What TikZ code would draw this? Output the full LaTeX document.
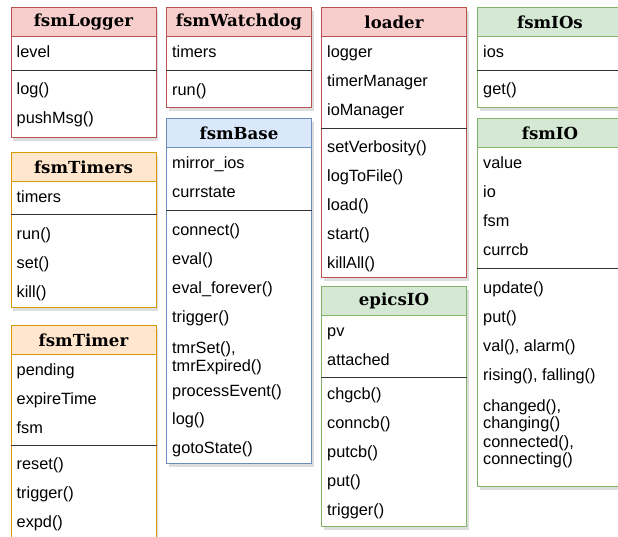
\documentclass[tikz,border=0pt]{standalone}
\usepackage{fontspec}
\setmainfont{Liberation Sans}
\newfontfamily\titlefont{DejaVu Serif}
\usepackage{tikz}
\usetikzlibrary{positioning, shadows}

\definecolor{redfill}{HTML}{F8CECC}
\definecolor{redline}{HTML}{B85450}
\definecolor{orangefill}{HTML}{FFE6CC}
\definecolor{orangeline}{HTML}{D79B00}
\definecolor{bluefill}{HTML}{DAE8FC}
\definecolor{blueline}{HTML}{6C8EBF}
\definecolor{greenfill}{HTML}{D5E8D4}
\definecolor{greenline}{HTML}{82B366}

\begin{document}
\begin{tikzpicture}[
    x=1pt, y=-1pt,
    frame/.style={rectangle, draw=#1line, fill=white, line width=1pt, minimum width=145pt, anchor=north west, inner sep=0pt, drop shadow={shadow xshift=2pt, shadow yshift=-3pt, fill=black!60, opacity=0.22}},
    head/.style={rectangle, draw=#1line, fill=#1fill, line width=1pt, minimum width=145pt, minimum height=29pt, anchor=north, inner sep=0pt, font=\titlefont\bfseries\fontsize{16.6}{20}\selectfont},
    rows/.style={inner sep=0pt, align=left, font=\fontsize{16.3}{29}\selectfont},
    divider/.style={draw=black!80, line width=1pt}
]
\useasboundingbox (0,0) rectangle (618,536);

% fsmLogger
\node[frame=red, minimum height=130pt] (logger) at (10.5,7) {};
\node[head=red] (loggerHead) at (logger.north) {fsmLogger};
\coordinate (loggerDiv) at (10.5,70);
\draw[divider] (loggerDiv) -- (loggerDiv -| logger.east);
\node[rows, below right=0pt and 6pt of loggerHead.south west] (loggerAttr) {\strut level};
\node[rows, below right=4pt and 6pt of loggerDiv] (loggerOps) {\strut log()\\pushMsg()};

% fsmWatchdog
\node[frame=red, minimum height=100pt] (watchdog) at (166,7) {};
\node[head=red] (watchdogHead) at (watchdog.north) {fsmWatchdog};
\coordinate (watchdogDiv) at (166,70);
\draw[divider] (watchdogDiv) -- (watchdogDiv -| watchdog.east);
\node[rows, below right=0pt and 6pt of watchdogHead.south west] (watchdogAttr) {\strut timers};
\node[rows, below right=5pt and 6pt of watchdogDiv] (watchdogOps) {\strut run()};

% loader
\node[frame=red, minimum height=270pt] (loader) at (321,7) {};
\node[head=red] (loaderHead) at (loader.north) {loader};
\coordinate (loaderDiv) at (321,128);
\draw[divider] (loaderDiv) -- (loaderDiv -| loader.east);
\node[rows, below right=0pt and 6pt of loaderHead.south west] (loaderAttr) {\strut logger\\timerManager\\ioManager};
\node[rows, below right=4pt and 6pt of loaderDiv] (loaderOps) {\strut setVerbosity()\\logToFile()\\load()\\start()\\killAll()};

% fsmIOs
\node[frame=green, minimum height=100pt] (ios) at (477,7) {};
\node[head=green] (iosHead) at (ios.north) {fsmIOs};
\coordinate (iosDiv) at (477,70);
\draw[divider] (iosDiv) -- (iosDiv -| ios.east);
\node[rows, below right=0pt and 6pt of iosHead.south west] (iosAttr) {\strut ios};
\node[rows, below right=4pt and 6pt of iosDiv] (iosOps) {\strut get()};

% fsmTimers
\node[frame=orange, minimum height=155pt] (timers) at (10.5,152) {};
\node[head=orange] (timersHead) at (timers.north) {fsmTimers};
\coordinate (timersDiv) at (10.5,214);
\draw[divider] (timersDiv) -- (timersDiv -| timers.east);
\node[rows, below right=0pt and 6pt of timersHead.south west] (timersAttr) {\strut timers};
\node[rows, below right=5pt and 6pt of timersDiv] (timersOps) {\strut run()\\set()\\kill()};

% fsmTimer
\node[frame=orange, minimum height=220pt] (timer) at (10.5,325) {};
\node[head=orange] (timerHead) at (timer.north) {fsmTimer};
\coordinate (timerDiv) at (10.5,445);
\draw[divider] (timerDiv) -- (timerDiv -| timer.east);
\node[rows, below right=0pt and 6pt of timerHead.south west] (timerAttr) {\strut pending\\expireTime\\fsm};
\node[rows, below right=4pt and 6pt of timerDiv] (timerOps) {\strut reset()\\trigger()\\expd()};

% fsmBase
\node[frame=blue, minimum height=345pt] (base) at (166,118) {};
\node[head=blue] (baseHead) at (base.north) {fsmBase};
\coordinate (baseDiv) at (166,210);
\draw[divider] (baseDiv) -- (baseDiv -| base.east);
\node[rows, below right=0pt and 6pt of baseHead.south west] (baseAttr) {\strut mirror\_ios\\currstate};
\node[rows, below right=5pt and 6pt of baseDiv] (baseOps) {\strut connect()\\eval()\\eval\_forever()\\trigger()\\[2pt]tmrSet(),\\[-11pt]tmrExpired()\\[-4pt]processEvent()\\[-1pt]log()\\gotoState()};

% fsmIO
\node[frame=green, minimum height=368pt] (io) at (477,118) {};
\node[head=green] (ioHead) at (io.north) {fsmIO};
\coordinate (ioDiv) at (477,268);
\draw[divider] (ioDiv) -- (ioDiv -| io.east);
\node[rows, below right=0pt and 6pt of ioHead.south west] (ioAttr) {\strut value\\io\\fsm\\currcb};
\node[rows, below right=5pt and 6pt of ioDiv] (ioOps) {\strut update()\\put()\\val(), alarm()\\rising(), falling()\\[2pt]changed(),\\[-12pt]changing()\\[-10pt]connected(),\\[-12pt]connecting()};

% epicsIO
\node[frame=green, minimum height=240pt] (epics) at (321,286) {};
\node[head=green] (epicsHead) at (epics.north) {epicsIO};
\coordinate (epicsDiv) at (321,377);
\draw[divider] (epicsDiv) -- (epicsDiv -| epics.east);
\node[rows, below right=0pt and 6pt of epicsHead.south west] (epicsAttr) {\strut pv\\attached};
\node[rows, below right=2pt and 6pt of epicsDiv] (epicsOps) {\strut chgcb()\\conncb()\\putcb()\\put()\\trigger()};

\end{tikzpicture}
\end{document}
